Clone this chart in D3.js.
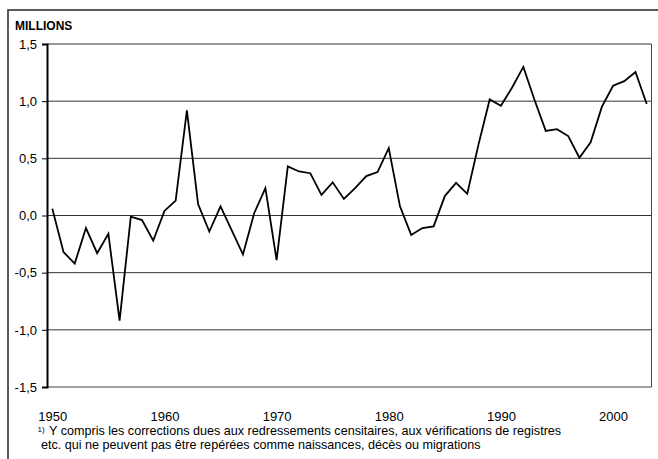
<!DOCTYPE html>
<html>
<head>
<meta charset="utf-8">
<script src="https://cdn.jsdelivr.net/npm/d3@7"></script>
<style>
  html, body { margin: 0; padding: 0; background: #fff; }
  svg { display: block; }
  text { font-family: "Liberation Sans", Arial, sans-serif; fill: #000; }
</style>
</head>
<body>
<svg id="chart" width="658" height="459"></svg>
<script>
const years = d3.range(1950, 2004);
const values = [
  0.06, -0.32, -0.42, -0.11, -0.33, -0.16, -0.92, -0.01, -0.04, -0.22,
  0.04, 0.13, 0.92, 0.10, -0.14, 0.08, -0.13, -0.34, 0.02, 0.24,
  -0.39, 0.43, 0.385, 0.37, 0.18, 0.29, 0.145, 0.24, 0.345, 0.38,
  0.59, 0.08, -0.17, -0.11, -0.095, 0.17, 0.285, 0.19, 0.62, 1.015,
  0.96, 1.12, 1.30, 1.01, 0.74, 0.755, 0.695, 0.505, 0.64, 0.95,
  1.135, 1.175, 1.255, 0.975
];
const yTicks = [-1.5, -1.0, -0.5, 0.0, 0.5, 1.0, 1.5];
const xTickLabels = [1950, 1960, 1970, 1980, 1990, 2000];
const yTitle = "MILLIONS";
const footnote = [
  "Y compris les corrections dues aux redressements censitaires, aux vérifications de registres",
  "etc. qui ne peuvent pas être repérées comme naissances, décès ou migrations"
];

const svg = d3.select("#chart");
const plot = { left: 47, right: 651.5, top: 44, bottom: 387 };

const x = d3.scaleLinear().domain([1950, 2003]).range([52.3, 646.7]);
const y = d3.scaleLinear().domain([-1.5, 1.5]).range([plot.bottom, plot.top]);

// outer frame
svg.append("rect")
  .attr("x", 8).attr("y", 10).attr("width", 700).attr("height", 500)
  .attr("fill", "none").attr("stroke", "#333").attr("stroke-width", 1.6);

// gridlines
svg.append("g").selectAll("line").data(yTicks.filter(d => d > -1.5)).join("line")
  .attr("x1", plot.left).attr("x2", plot.right)
  .attr("y1", d => y(d)).attr("y2", d => y(d))
  .attr("stroke", "#333").attr("stroke-width", 1);

// plot right and bottom border
svg.append("path")
  .attr("d", `M${plot.right},${plot.top}V${plot.bottom}H${plot.left}`)
  .attr("fill", "none").attr("stroke", "#444").attr("stroke-width", 1);

// y axis
const fmt = d => d3.format(".1f")(d).replace(".", ",").replace("−", "-");
const yAxis = d3.axisLeft(y).tickValues(yTicks).tickSize(5).tickPadding(5).tickFormat(fmt);
const gy = svg.append("g").attr("transform", `translate(${plot.left},0)`).call(yAxis);
gy.select(".domain").attr("stroke", "#000").attr("stroke-width", 2);
gy.selectAll(".tick line").attr("stroke", "#000").attr("stroke-width", 1);
gy.selectAll(".tick text").attr("font-size", 13).attr("font-family", "Liberation Sans, Arial, sans-serif").attr("fill", "#000");

// x axis labels (no tick marks)
const xAxis = d3.axisBottom(x).tickValues(xTickLabels).tickSize(0).tickPadding(0).tickFormat(d3.format("d"));
const gx = svg.append("g").attr("transform", `translate(0,${plot.bottom + 33.5})`).call(xAxis);
gx.select(".domain").remove();
gx.selectAll(".tick text").attr("font-size", 13).attr("font-family", "Liberation Sans, Arial, sans-serif").attr("fill", "#000").attr("dy", 0);

// line
const line = d3.line().x((d, i) => x(years[i])).y(d => y(d));
svg.append("path").datum(values)
  .attr("d", line)
  .attr("fill", "none").attr("stroke", "#000").attr("stroke-width", 1.8)
  .attr("stroke-linejoin", "miter");

// y title
svg.append("text").attr("x", 15).attr("y", 30)
  .attr("font-size", 12).attr("font-weight", "bold").text(yTitle);

// footnote
svg.append("text").attr("x", 37.5).attr("y", 432).attr("font-size", 8).text("1)");
svg.append("text").attr("x", 49).attr("y", 434.5).attr("font-size", 12.6).text(footnote[0]);
svg.append("text").attr("x", 41).attr("y", 448.5).attr("font-size", 12.6).text(footnote[1]);
</script>
</body>
</html>
